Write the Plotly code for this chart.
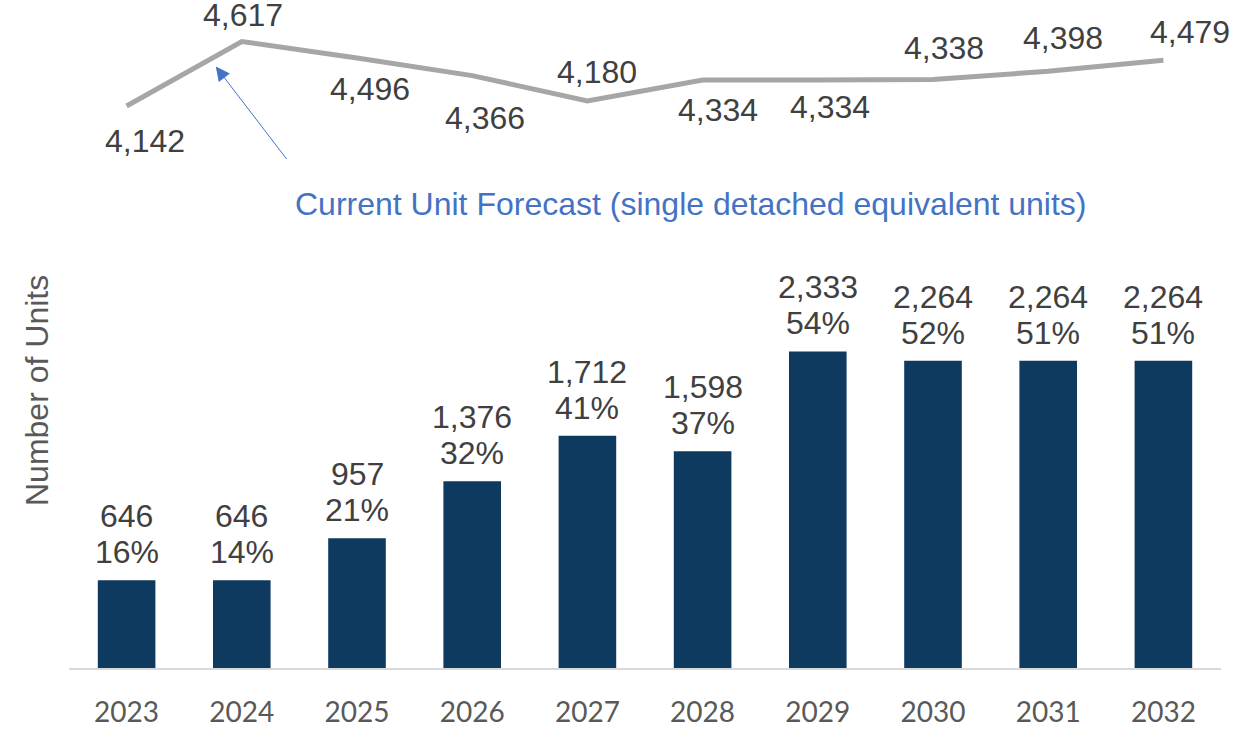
import plotly.graph_objects as go

years = ["2023", "2024", "2025", "2026", "2027", "2028", "2029", "2030", "2031", "2032"]
units = [646, 646, 957, 1376, 1712, 1598, 2333, 2264, 2264, 2264]
shares = [16, 14, 21, 32, 41, 37, 54, 52, 51, 51]
forecast = [4142, 4617, 4496, 4366, 4180, 4334, 4334, 4338, 4398, 4479]

# label offsets (pixels) for the forecast labels
fx = [18, 1, 13, 13, 10, 15, 12, 11, 15, 27]
fy = [-35, 27, -31, -42, 29, -30, -27, 31, 33, 28]

BAR = "#0D3A5E"
LINE = "#A6A6A6"
TXT = "#404040"
FONT = "Liberation Sans, Arial, sans-serif"
FS = 32

fig = go.Figure()
fig.add_trace(go.Bar(x=years, y=units, marker=dict(color=BAR, line=dict(width=0)),
                     width=0.5, hoverinfo="skip"))
fig.add_trace(go.Scatter(x=years, y=forecast, mode="lines",
                         line=dict(color=LINE, width=5), hoverinfo="skip"))

annotations = []
for i, y in enumerate(years):
    annotations.append(dict(x=i, y=units[i], text=f"{shares[i]}%", showarrow=False,
                            yanchor="bottom", yshift=8,
                            font=dict(family=FONT, size=FS, color=TXT)))
    annotations.append(dict(x=i, y=units[i], text=f"{units[i]:,}", showarrow=False,
                            yanchor="bottom", yshift=44,
                            font=dict(family=FONT, size=FS, color=TXT)))
    annotations.append(dict(x=i, y=forecast[i], text=f"{forecast[i]:,}", showarrow=False,
                            xshift=fx[i], yshift=fy[i],
                            font=dict(family=FONT, size=FS, color=TXT)))

annotations.append(dict(xref="paper", yref="paper", x=(691 - 69) / 1152, y=(668 - 184) / 648,
                        text="Current Unit Forecast (single detached equivalent units)",
                        showarrow=False, font=dict(family=FONT, size=FS, color="#4472C4")))
annotations.append(dict(x=1, y=forecast[1], xshift=-26, yshift=-25, text="",
                        showarrow=True, arrowhead=2, arrowsize=2.8, arrowwidth=1,
                        arrowcolor="#4472C4", ax=72, ay=94, axref="pixel", ayref="pixel",
                        standoff=0))
annotations.append(dict(xref="paper", yref="paper", x=(37 - 69) / 1152, y=(668 - 391) / 648,
                        text="Number of Units", textangle=-90, showarrow=False,
                        xanchor="center", yanchor="middle",
                        font=dict(family=FONT, size=FS, color="#595959")))

fig.update_layout(
    width=1234, height=731,
    margin=dict(l=69, r=13, t=20, b=63, autoexpand=False),
    paper_bgcolor="white", plot_bgcolor="white",
    showlegend=False,
    xaxis=dict(type="category", range=[-0.5, 9.5], showline=True, linecolor="#D9D9D9",
               linewidth=2, ticks="", showgrid=False, zeroline=False, automargin=False,
               tickfont=dict(family="Lato, Open Sans, sans-serif", size=28, color="#595959"),
               ticklabelstandoff=18),
    yaxis=dict(range=[0, 4776], showticklabels=False, showgrid=False, zeroline=False,
               showline=False, ticks="", automargin=False),
    annotations=annotations,
)

# remove the default 8px page margin so the figure fills the window exactly
fig.write_html("out.html", config={"displayModeBar": False},
               post_script="document.body.style.margin='0px';")
